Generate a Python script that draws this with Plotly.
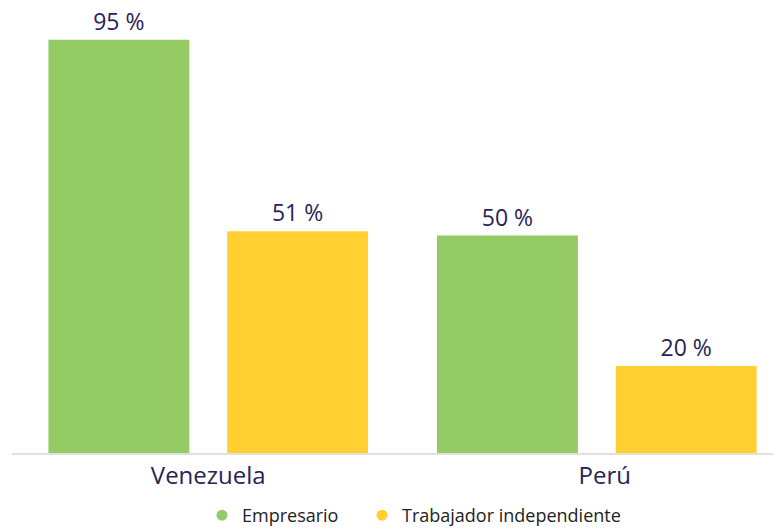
import plotly.graph_objects as go

categories = ["Venezuela", "Perú"]
tick_labels = ["Venezuela", "\u2002\u2009Perú"]
empresario = [95, 50]
trabajador = [51, 20]
series_names = ["Empresario", "Trabajador independiente"]
colors = ["#94CB64", "#FFD02F"]

label_color = "#2B2257"
font_family = "Open Sans"

fig = go.Figure()
for name, vals, col in zip(series_names, [empresario, trabajador], colors):
    fig.add_trace(go.Bar(
        x=categories, y=vals, name=name, marker=dict(color=col, line=dict(width=0)),
        texttemplate="%{y} %", textposition="outside",
        textfont=dict(family=font_family, size=23, color=label_color),
        showlegend=False, cliponaxis=False, hoverinfo="skip",
    ))
# legend entries with round markers (one legend per entry to control spacing)
for i, (name, col) in enumerate(zip(series_names, colors)):
    fig.add_trace(go.Scatter(
        x=[None], y=[None], mode="markers", name=name,
        marker=dict(symbol="circle", size=11, color=col), showlegend=True,
        legend="legend" if i == 0 else "legend2",
    ))

W, H = 781, 529
ml, mr, mt, mb = 4, 8, 10, 84
pw = W - ml - mr
ph = H - mt - mb

def lx(px):
    return (px - ml) / pw

legend_common = dict(
    orientation="h", xanchor="left", y=-0.101, yanchor="top",
    font=dict(family=font_family, size=18, color="#222222"),
    bgcolor="rgba(0,0,0,0)",
)

fig.update_layout(
    width=W, height=H,
    margin=dict(l=ml, r=mr, t=mt, b=mb, autoexpand=False),
    paper_bgcolor="white", plot_bgcolor="white",
    barmode="group", bargap=0.08, bargroupgap=0.212,
    font=dict(family=font_family),
    xaxis=dict(
        range=[-0.505, 1.474], showgrid=False, zeroline=False,
        showline=True, linecolor="#E0E0E0", linewidth=2,
        ticks="", tickfont=dict(family=font_family, size=24, color=label_color),
        tickmode="array", tickvals=categories, ticktext=tick_labels,
        fixedrange=True, automargin=False,
    ),
    yaxis=dict(range=[0, 100], visible=False, showgrid=False, zeroline=False,
               fixedrange=True, automargin=False),
    legend=dict(x=lx(194), **legend_common),
    legend2=dict(x=lx(354), **legend_common),
)

fig.write_html("out.html")
